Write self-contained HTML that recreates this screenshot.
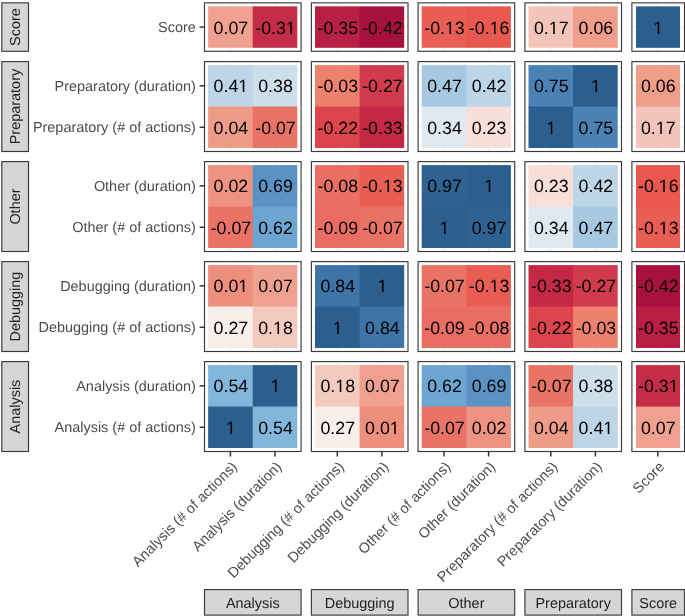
<!DOCTYPE html><html><head><meta charset="utf-8"><style>html,body{margin:0;padding:0;background:#fff;}svg{display:block;will-change:transform;}text{font-family:"Liberation Sans", sans-serif;text-rendering:geometricPrecision;}</style></head><body>
<svg width="685" height="616" viewBox="0 0 685 616">
<rect x="0" y="0" width="685" height="616" fill="#fff"/>
<rect x="1.8" y="2.85" width="26.7" height="48.45" fill="#D6D6D6" stroke="#3A3A3A" stroke-width="1.15"/>
<text x="20.5" y="27.08" transform="rotate(-90 20.5 27.08)" text-anchor="middle" font-size="14.45" fill="#222222">Score</text>
<rect x="204.50" y="2.85" width="96.60" height="48.45" fill="#fff"/>
<line x1="230.40" y1="2.85" x2="230.40" y2="51.30" stroke="#EBEBEB" stroke-width="1"/>
<line x1="275.00" y1="2.85" x2="275.00" y2="51.30" stroke="#EBEBEB" stroke-width="1"/>
<line x1="204.50" y1="27.08" x2="301.10" y2="27.08" stroke="#EBEBEB" stroke-width="1"/>
<rect x="208.10" y="6.35" width="45.40" height="41.45" fill="#F0A08E"/>
<rect x="252.70" y="6.35" width="44.60" height="41.45" fill="#C42C48"/>
<text x="230.90" y="34.00" text-anchor="middle" font-size="17.8" fill="#000">0.07</text>
<text x="275.50" y="34.00" text-anchor="middle" font-size="17.8" fill="#000">-0.31</text>
<rect x="286" y="32" width="10" height="2" fill="#C42C48"/>
<rect x="290.36" y="32" width="1.57" height="2" fill="#000"/>
<rect x="204.50" y="2.85" width="96.60" height="48.45" fill="none" stroke="#3A3A3A" stroke-width="1.15"/>
<rect x="311.40" y="2.85" width="96.60" height="48.45" fill="#fff"/>
<line x1="337.30" y1="2.85" x2="337.30" y2="51.30" stroke="#EBEBEB" stroke-width="1"/>
<line x1="381.90" y1="2.85" x2="381.90" y2="51.30" stroke="#EBEBEB" stroke-width="1"/>
<line x1="311.40" y1="27.08" x2="408.00" y2="27.08" stroke="#EBEBEB" stroke-width="1"/>
<rect x="315.00" y="6.35" width="45.40" height="41.45" fill="#B71F45"/>
<rect x="359.60" y="6.35" width="44.60" height="41.45" fill="#A8103D"/>
<text x="337.80" y="34.00" text-anchor="middle" font-size="17.8" fill="#000">-0.35</text>
<text x="382.40" y="34.00" text-anchor="middle" font-size="17.8" fill="#000">-0.42</text>
<rect x="311.40" y="2.85" width="96.60" height="48.45" fill="none" stroke="#3A3A3A" stroke-width="1.15"/>
<rect x="418.10" y="2.85" width="96.60" height="48.45" fill="#fff"/>
<line x1="444.00" y1="2.85" x2="444.00" y2="51.30" stroke="#EBEBEB" stroke-width="1"/>
<line x1="488.60" y1="2.85" x2="488.60" y2="51.30" stroke="#EBEBEB" stroke-width="1"/>
<line x1="418.10" y1="27.08" x2="514.70" y2="27.08" stroke="#EBEBEB" stroke-width="1"/>
<rect x="421.70" y="6.35" width="45.40" height="41.45" fill="#E85E55"/>
<rect x="466.30" y="6.35" width="44.60" height="41.45" fill="#E8584F"/>
<text x="444.50" y="34.00" text-anchor="middle" font-size="17.8" fill="#000">-0.13</text>
<rect x="445" y="32" width="11" height="2" fill="#E85E55"/>
<rect x="449.46" y="32" width="1.57" height="2" fill="#000"/>
<text x="489.10" y="34.00" text-anchor="middle" font-size="17.8" fill="#000">-0.16</text>
<rect x="489" y="32" width="11" height="2" fill="#E8584F"/>
<rect x="494.06" y="32" width="1.57" height="2" fill="#000"/>
<rect x="418.10" y="2.85" width="96.60" height="48.45" fill="none" stroke="#3A3A3A" stroke-width="1.15"/>
<rect x="524.90" y="2.85" width="96.60" height="48.45" fill="#fff"/>
<line x1="550.80" y1="2.85" x2="550.80" y2="51.30" stroke="#EBEBEB" stroke-width="1"/>
<line x1="595.40" y1="2.85" x2="595.40" y2="51.30" stroke="#EBEBEB" stroke-width="1"/>
<line x1="524.90" y1="27.08" x2="621.50" y2="27.08" stroke="#EBEBEB" stroke-width="1"/>
<rect x="528.50" y="6.35" width="45.40" height="41.45" fill="#F3C5BA"/>
<rect x="573.10" y="6.35" width="44.60" height="41.45" fill="#F09D8A"/>
<text x="551.30" y="34.00" text-anchor="middle" font-size="17.8" fill="#000">0.17</text>
<rect x="549" y="32" width="10" height="2" fill="#F3C5BA"/>
<rect x="553.30" y="32" width="1.57" height="2" fill="#000"/>
<text x="595.90" y="34.00" text-anchor="middle" font-size="17.8" fill="#000">0.06</text>
<rect x="524.90" y="2.85" width="96.60" height="48.45" fill="none" stroke="#3A3A3A" stroke-width="1.15"/>
<rect x="631.90" y="2.85" width="52.60" height="48.45" fill="#fff"/>
<line x1="657.80" y1="2.85" x2="657.80" y2="51.30" stroke="#EBEBEB" stroke-width="1"/>
<line x1="631.90" y1="27.08" x2="684.50" y2="27.08" stroke="#EBEBEB" stroke-width="1"/>
<rect x="636.00" y="6.35" width="44.00" height="41.45" fill="#2B5F8E"/>
<text x="658.30" y="34.00" text-anchor="middle" font-size="17.8" fill="#000">1</text>
<rect x="653" y="32" width="11" height="2" fill="#2B5F8E"/>
<rect x="657.83" y="32" width="1.57" height="2" fill="#000"/>
<rect x="631.90" y="2.85" width="52.60" height="48.45" fill="none" stroke="#3A3A3A" stroke-width="1.15"/>
<line x1="199.6" y1="27.08" x2="204.50" y2="27.08" stroke="#333" stroke-width="1.5"/>
<text x="195.8" y="32.08" text-anchor="end" font-size="14.45" fill="#4D4D4D">Score</text>
<rect x="1.8" y="61.60" width="26.7" height="89.90" fill="#D6D6D6" stroke="#3A3A3A" stroke-width="1.15"/>
<text x="20.5" y="106.55" transform="rotate(-90 20.5 106.55)" text-anchor="middle" font-size="14.45" fill="#222222">Preparatory</text>
<rect x="204.50" y="61.60" width="96.60" height="89.90" fill="#fff"/>
<line x1="230.40" y1="61.60" x2="230.40" y2="151.50" stroke="#EBEBEB" stroke-width="1"/>
<line x1="275.00" y1="61.60" x2="275.00" y2="151.50" stroke="#EBEBEB" stroke-width="1"/>
<line x1="204.50" y1="85.82" x2="301.10" y2="85.82" stroke="#EBEBEB" stroke-width="1"/>
<line x1="204.50" y1="127.28" x2="301.10" y2="127.28" stroke="#EBEBEB" stroke-width="1"/>
<rect x="208.10" y="65.10" width="45.40" height="42.25" fill="#BDD5E6"/>
<rect x="252.70" y="65.10" width="44.60" height="42.25" fill="#CCDFEB"/>
<rect x="208.10" y="106.55" width="45.40" height="41.45" fill="#EE9B88"/>
<rect x="252.70" y="106.55" width="44.60" height="41.45" fill="#E97466"/>
<text x="230.90" y="92.00" text-anchor="middle" font-size="17.8" fill="#000">0.41</text>
<rect x="238" y="90" width="11" height="2" fill="#BDD5E6"/>
<rect x="242.80" y="90" width="1.57" height="2" fill="#000"/>
<text x="275.50" y="92.00" text-anchor="middle" font-size="17.8" fill="#000">0.38</text>
<text x="230.90" y="134.00" text-anchor="middle" font-size="17.8" fill="#000">0.04</text>
<text x="275.50" y="134.00" text-anchor="middle" font-size="17.8" fill="#000">-0.07</text>
<rect x="204.50" y="61.60" width="96.60" height="89.90" fill="none" stroke="#3A3A3A" stroke-width="1.15"/>
<rect x="311.40" y="61.60" width="96.60" height="89.90" fill="#fff"/>
<line x1="337.30" y1="61.60" x2="337.30" y2="151.50" stroke="#EBEBEB" stroke-width="1"/>
<line x1="381.90" y1="61.60" x2="381.90" y2="151.50" stroke="#EBEBEB" stroke-width="1"/>
<line x1="311.40" y1="85.82" x2="408.00" y2="85.82" stroke="#EBEBEB" stroke-width="1"/>
<line x1="311.40" y1="127.28" x2="408.00" y2="127.28" stroke="#EBEBEB" stroke-width="1"/>
<rect x="315.00" y="65.10" width="45.40" height="42.25" fill="#ED816D"/>
<rect x="359.60" y="65.10" width="44.60" height="42.25" fill="#D23B4D"/>
<rect x="315.00" y="106.55" width="45.40" height="41.45" fill="#DB454B"/>
<rect x="359.60" y="106.55" width="44.60" height="41.45" fill="#C42845"/>
<text x="337.80" y="92.00" text-anchor="middle" font-size="17.8" fill="#000">-0.03</text>
<text x="382.40" y="92.00" text-anchor="middle" font-size="17.8" fill="#000">-0.27</text>
<text x="337.80" y="134.00" text-anchor="middle" font-size="17.8" fill="#000">-0.22</text>
<text x="382.40" y="134.00" text-anchor="middle" font-size="17.8" fill="#000">-0.33</text>
<rect x="311.40" y="61.60" width="96.60" height="89.90" fill="none" stroke="#3A3A3A" stroke-width="1.15"/>
<rect x="418.10" y="61.60" width="96.60" height="89.90" fill="#fff"/>
<line x1="444.00" y1="61.60" x2="444.00" y2="151.50" stroke="#EBEBEB" stroke-width="1"/>
<line x1="488.60" y1="61.60" x2="488.60" y2="151.50" stroke="#EBEBEB" stroke-width="1"/>
<line x1="418.10" y1="85.82" x2="514.70" y2="85.82" stroke="#EBEBEB" stroke-width="1"/>
<line x1="418.10" y1="127.28" x2="514.70" y2="127.28" stroke="#EBEBEB" stroke-width="1"/>
<rect x="421.70" y="65.10" width="45.40" height="42.25" fill="#A6C9E1"/>
<rect x="466.30" y="65.10" width="44.60" height="42.25" fill="#BCD6E8"/>
<rect x="421.70" y="106.55" width="45.40" height="41.45" fill="#E0E9F1"/>
<rect x="466.30" y="106.55" width="44.60" height="41.45" fill="#F8DED8"/>
<text x="444.50" y="92.00" text-anchor="middle" font-size="17.8" fill="#000">0.47</text>
<text x="489.10" y="92.00" text-anchor="middle" font-size="17.8" fill="#000">0.42</text>
<text x="444.50" y="134.00" text-anchor="middle" font-size="17.8" fill="#000">0.34</text>
<text x="489.10" y="134.00" text-anchor="middle" font-size="17.8" fill="#000">0.23</text>
<rect x="418.10" y="61.60" width="96.60" height="89.90" fill="none" stroke="#3A3A3A" stroke-width="1.15"/>
<rect x="524.90" y="61.60" width="96.60" height="89.90" fill="#fff"/>
<line x1="550.80" y1="61.60" x2="550.80" y2="151.50" stroke="#EBEBEB" stroke-width="1"/>
<line x1="595.40" y1="61.60" x2="595.40" y2="151.50" stroke="#EBEBEB" stroke-width="1"/>
<line x1="524.90" y1="85.82" x2="621.50" y2="85.82" stroke="#EBEBEB" stroke-width="1"/>
<line x1="524.90" y1="127.28" x2="621.50" y2="127.28" stroke="#EBEBEB" stroke-width="1"/>
<rect x="528.50" y="65.10" width="45.40" height="42.25" fill="#4B82B5"/>
<rect x="573.10" y="65.10" width="44.60" height="42.25" fill="#2B5F8E"/>
<rect x="528.50" y="106.55" width="45.40" height="41.45" fill="#2B5F8E"/>
<rect x="573.10" y="106.55" width="44.60" height="41.45" fill="#4B82B5"/>
<text x="551.30" y="92.00" text-anchor="middle" font-size="17.8" fill="#000">0.75</text>
<text x="595.90" y="92.00" text-anchor="middle" font-size="17.8" fill="#000">1</text>
<rect x="591" y="90" width="10" height="2" fill="#2B5F8E"/>
<rect x="595.43" y="90" width="1.57" height="2" fill="#000"/>
<text x="551.30" y="134.00" text-anchor="middle" font-size="17.8" fill="#000">1</text>
<rect x="546" y="132" width="11" height="2" fill="#2B5F8E"/>
<rect x="550.83" y="132" width="1.57" height="2" fill="#000"/>
<text x="595.90" y="134.00" text-anchor="middle" font-size="17.8" fill="#000">0.75</text>
<rect x="524.90" y="61.60" width="96.60" height="89.90" fill="none" stroke="#3A3A3A" stroke-width="1.15"/>
<rect x="631.90" y="61.60" width="52.60" height="89.90" fill="#fff"/>
<line x1="657.80" y1="61.60" x2="657.80" y2="151.50" stroke="#EBEBEB" stroke-width="1"/>
<line x1="631.90" y1="85.82" x2="684.50" y2="85.82" stroke="#EBEBEB" stroke-width="1"/>
<line x1="631.90" y1="127.28" x2="684.50" y2="127.28" stroke="#EBEBEB" stroke-width="1"/>
<rect x="636.00" y="65.10" width="44.00" height="42.25" fill="#F09D8A"/>
<rect x="636.00" y="106.55" width="44.00" height="41.45" fill="#F3C5BA"/>
<text x="658.30" y="92.00" text-anchor="middle" font-size="17.8" fill="#000">0.06</text>
<text x="658.30" y="134.00" text-anchor="middle" font-size="17.8" fill="#000">0.17</text>
<rect x="656" y="132" width="10" height="2" fill="#F3C5BA"/>
<rect x="660.30" y="132" width="1.57" height="2" fill="#000"/>
<rect x="631.90" y="61.60" width="52.60" height="89.90" fill="none" stroke="#3A3A3A" stroke-width="1.15"/>
<line x1="199.6" y1="85.82" x2="204.50" y2="85.82" stroke="#333" stroke-width="1.5"/>
<text x="195.8" y="90.82" text-anchor="end" font-size="14.45" fill="#4D4D4D">Preparatory (duration)</text>
<line x1="199.6" y1="127.28" x2="204.50" y2="127.28" stroke="#333" stroke-width="1.5"/>
<text x="195.8" y="132.28" text-anchor="end" font-size="14.45" fill="#4D4D4D">Preparatory (# of actions)</text>
<rect x="1.8" y="161.60" width="26.7" height="89.90" fill="#D6D6D6" stroke="#3A3A3A" stroke-width="1.15"/>
<text x="20.5" y="206.55" transform="rotate(-90 20.5 206.55)" text-anchor="middle" font-size="14.45" fill="#222222">Other</text>
<rect x="204.50" y="161.60" width="96.60" height="89.90" fill="#fff"/>
<line x1="230.40" y1="161.60" x2="230.40" y2="251.50" stroke="#EBEBEB" stroke-width="1"/>
<line x1="275.00" y1="161.60" x2="275.00" y2="251.50" stroke="#EBEBEB" stroke-width="1"/>
<line x1="204.50" y1="185.82" x2="301.10" y2="185.82" stroke="#EBEBEB" stroke-width="1"/>
<line x1="204.50" y1="227.28" x2="301.10" y2="227.28" stroke="#EBEBEB" stroke-width="1"/>
<rect x="208.10" y="165.10" width="45.40" height="42.25" fill="#EE9282"/>
<rect x="252.70" y="165.10" width="44.60" height="42.25" fill="#5A93C3"/>
<rect x="208.10" y="206.55" width="45.40" height="41.45" fill="#E97466"/>
<rect x="252.70" y="206.55" width="44.60" height="41.45" fill="#6BA5D0"/>
<text x="230.90" y="192.00" text-anchor="middle" font-size="17.8" fill="#000">0.02</text>
<text x="275.50" y="192.00" text-anchor="middle" font-size="17.8" fill="#000">0.69</text>
<text x="230.90" y="234.00" text-anchor="middle" font-size="17.8" fill="#000">-0.07</text>
<text x="275.50" y="234.00" text-anchor="middle" font-size="17.8" fill="#000">0.62</text>
<rect x="204.50" y="161.60" width="96.60" height="89.90" fill="none" stroke="#3A3A3A" stroke-width="1.15"/>
<rect x="311.40" y="161.60" width="96.60" height="89.90" fill="#fff"/>
<line x1="337.30" y1="161.60" x2="337.30" y2="251.50" stroke="#EBEBEB" stroke-width="1"/>
<line x1="381.90" y1="161.60" x2="381.90" y2="251.50" stroke="#EBEBEB" stroke-width="1"/>
<line x1="311.40" y1="185.82" x2="408.00" y2="185.82" stroke="#EBEBEB" stroke-width="1"/>
<line x1="311.40" y1="227.28" x2="408.00" y2="227.28" stroke="#EBEBEB" stroke-width="1"/>
<rect x="315.00" y="165.10" width="45.40" height="42.25" fill="#E96F63"/>
<rect x="359.60" y="165.10" width="44.60" height="42.25" fill="#E85E55"/>
<rect x="315.00" y="206.55" width="45.40" height="41.45" fill="#E96D62"/>
<rect x="359.60" y="206.55" width="44.60" height="41.45" fill="#E97466"/>
<text x="337.80" y="192.00" text-anchor="middle" font-size="17.8" fill="#000">-0.08</text>
<text x="382.40" y="192.00" text-anchor="middle" font-size="17.8" fill="#000">-0.13</text>
<rect x="383" y="190" width="10" height="2" fill="#E85E55"/>
<rect x="387.36" y="190" width="1.57" height="2" fill="#000"/>
<text x="337.80" y="234.00" text-anchor="middle" font-size="17.8" fill="#000">-0.09</text>
<text x="382.40" y="234.00" text-anchor="middle" font-size="17.8" fill="#000">-0.07</text>
<rect x="311.40" y="161.60" width="96.60" height="89.90" fill="none" stroke="#3A3A3A" stroke-width="1.15"/>
<rect x="418.10" y="161.60" width="96.60" height="89.90" fill="#fff"/>
<line x1="444.00" y1="161.60" x2="444.00" y2="251.50" stroke="#EBEBEB" stroke-width="1"/>
<line x1="488.60" y1="161.60" x2="488.60" y2="251.50" stroke="#EBEBEB" stroke-width="1"/>
<line x1="418.10" y1="185.82" x2="514.70" y2="185.82" stroke="#EBEBEB" stroke-width="1"/>
<line x1="418.10" y1="227.28" x2="514.70" y2="227.28" stroke="#EBEBEB" stroke-width="1"/>
<rect x="421.70" y="165.10" width="45.40" height="42.25" fill="#2E6291"/>
<rect x="466.30" y="165.10" width="44.60" height="42.25" fill="#2B5F8E"/>
<rect x="421.70" y="206.55" width="45.40" height="41.45" fill="#2B5F8E"/>
<rect x="466.30" y="206.55" width="44.60" height="41.45" fill="#2E6291"/>
<text x="444.50" y="192.00" text-anchor="middle" font-size="17.8" fill="#000">0.97</text>
<text x="489.10" y="192.00" text-anchor="middle" font-size="17.8" fill="#000">1</text>
<rect x="484" y="190" width="11" height="2" fill="#2B5F8E"/>
<rect x="488.63" y="190" width="1.57" height="2" fill="#000"/>
<text x="444.50" y="234.00" text-anchor="middle" font-size="17.8" fill="#000">1</text>
<rect x="439" y="232" width="11" height="2" fill="#2B5F8E"/>
<rect x="444.03" y="232" width="1.57" height="2" fill="#000"/>
<text x="489.10" y="234.00" text-anchor="middle" font-size="17.8" fill="#000">0.97</text>
<rect x="418.10" y="161.60" width="96.60" height="89.90" fill="none" stroke="#3A3A3A" stroke-width="1.15"/>
<rect x="524.90" y="161.60" width="96.60" height="89.90" fill="#fff"/>
<line x1="550.80" y1="161.60" x2="550.80" y2="251.50" stroke="#EBEBEB" stroke-width="1"/>
<line x1="595.40" y1="161.60" x2="595.40" y2="251.50" stroke="#EBEBEB" stroke-width="1"/>
<line x1="524.90" y1="185.82" x2="621.50" y2="185.82" stroke="#EBEBEB" stroke-width="1"/>
<line x1="524.90" y1="227.28" x2="621.50" y2="227.28" stroke="#EBEBEB" stroke-width="1"/>
<rect x="528.50" y="165.10" width="45.40" height="42.25" fill="#F8DED8"/>
<rect x="573.10" y="165.10" width="44.60" height="42.25" fill="#BCD6E8"/>
<rect x="528.50" y="206.55" width="45.40" height="41.45" fill="#E0E9F1"/>
<rect x="573.10" y="206.55" width="44.60" height="41.45" fill="#A6C9E1"/>
<text x="551.30" y="192.00" text-anchor="middle" font-size="17.8" fill="#000">0.23</text>
<text x="595.90" y="192.00" text-anchor="middle" font-size="17.8" fill="#000">0.42</text>
<text x="551.30" y="234.00" text-anchor="middle" font-size="17.8" fill="#000">0.34</text>
<text x="595.90" y="234.00" text-anchor="middle" font-size="17.8" fill="#000">0.47</text>
<rect x="524.90" y="161.60" width="96.60" height="89.90" fill="none" stroke="#3A3A3A" stroke-width="1.15"/>
<rect x="631.90" y="161.60" width="52.60" height="89.90" fill="#fff"/>
<line x1="657.80" y1="161.60" x2="657.80" y2="251.50" stroke="#EBEBEB" stroke-width="1"/>
<line x1="631.90" y1="185.82" x2="684.50" y2="185.82" stroke="#EBEBEB" stroke-width="1"/>
<line x1="631.90" y1="227.28" x2="684.50" y2="227.28" stroke="#EBEBEB" stroke-width="1"/>
<rect x="636.00" y="165.10" width="44.00" height="42.25" fill="#E8584F"/>
<rect x="636.00" y="206.55" width="44.00" height="41.45" fill="#E85E55"/>
<text x="658.30" y="192.00" text-anchor="middle" font-size="17.8" fill="#000">-0.16</text>
<rect x="659" y="190" width="10" height="2" fill="#E8584F"/>
<rect x="663.26" y="190" width="1.57" height="2" fill="#000"/>
<text x="658.30" y="234.00" text-anchor="middle" font-size="17.8" fill="#000">-0.13</text>
<rect x="659" y="232" width="10" height="2" fill="#E85E55"/>
<rect x="663.26" y="232" width="1.57" height="2" fill="#000"/>
<rect x="631.90" y="161.60" width="52.60" height="89.90" fill="none" stroke="#3A3A3A" stroke-width="1.15"/>
<line x1="199.6" y1="185.82" x2="204.50" y2="185.82" stroke="#333" stroke-width="1.5"/>
<text x="195.8" y="190.82" text-anchor="end" font-size="14.45" fill="#4D4D4D">Other (duration)</text>
<line x1="199.6" y1="227.28" x2="204.50" y2="227.28" stroke="#333" stroke-width="1.5"/>
<text x="195.8" y="232.28" text-anchor="end" font-size="14.45" fill="#4D4D4D">Other (# of actions)</text>
<rect x="1.8" y="261.60" width="26.7" height="89.90" fill="#D6D6D6" stroke="#3A3A3A" stroke-width="1.15"/>
<text x="20.5" y="306.55" transform="rotate(-90 20.5 306.55)" text-anchor="middle" font-size="14.45" fill="#222222">Debugging</text>
<rect x="204.50" y="261.60" width="96.60" height="89.90" fill="#fff"/>
<line x1="230.40" y1="261.60" x2="230.40" y2="351.50" stroke="#EBEBEB" stroke-width="1"/>
<line x1="275.00" y1="261.60" x2="275.00" y2="351.50" stroke="#EBEBEB" stroke-width="1"/>
<line x1="204.50" y1="285.83" x2="301.10" y2="285.83" stroke="#EBEBEB" stroke-width="1"/>
<line x1="204.50" y1="327.28" x2="301.10" y2="327.28" stroke="#EBEBEB" stroke-width="1"/>
<rect x="208.10" y="265.10" width="45.40" height="42.25" fill="#EE8E7D"/>
<rect x="252.70" y="265.10" width="44.60" height="42.25" fill="#F0A08E"/>
<rect x="208.10" y="306.55" width="45.40" height="41.45" fill="#F8EEEA"/>
<rect x="252.70" y="306.55" width="44.60" height="41.45" fill="#F4C9BE"/>
<text x="230.90" y="292.00" text-anchor="middle" font-size="17.8" fill="#000">0.01</text>
<rect x="238" y="290" width="11" height="2" fill="#EE8E7D"/>
<rect x="242.80" y="290" width="1.57" height="2" fill="#000"/>
<text x="275.50" y="292.00" text-anchor="middle" font-size="17.8" fill="#000">0.07</text>
<text x="230.90" y="334.00" text-anchor="middle" font-size="17.8" fill="#000">0.27</text>
<text x="275.50" y="334.00" text-anchor="middle" font-size="17.8" fill="#000">0.18</text>
<rect x="273" y="332" width="11" height="2" fill="#F4C9BE"/>
<rect x="277.50" y="332" width="1.57" height="2" fill="#000"/>
<rect x="204.50" y="261.60" width="96.60" height="89.90" fill="none" stroke="#3A3A3A" stroke-width="1.15"/>
<rect x="311.40" y="261.60" width="96.60" height="89.90" fill="#fff"/>
<line x1="337.30" y1="261.60" x2="337.30" y2="351.50" stroke="#EBEBEB" stroke-width="1"/>
<line x1="381.90" y1="261.60" x2="381.90" y2="351.50" stroke="#EBEBEB" stroke-width="1"/>
<line x1="311.40" y1="285.83" x2="408.00" y2="285.83" stroke="#EBEBEB" stroke-width="1"/>
<line x1="311.40" y1="327.28" x2="408.00" y2="327.28" stroke="#EBEBEB" stroke-width="1"/>
<rect x="315.00" y="265.10" width="45.40" height="42.25" fill="#3F74A8"/>
<rect x="359.60" y="265.10" width="44.60" height="42.25" fill="#2B5F8E"/>
<rect x="315.00" y="306.55" width="45.40" height="41.45" fill="#2B5F8E"/>
<rect x="359.60" y="306.55" width="44.60" height="41.45" fill="#3F74A8"/>
<text x="337.80" y="292.00" text-anchor="middle" font-size="17.8" fill="#000">0.84</text>
<text x="382.40" y="292.00" text-anchor="middle" font-size="17.8" fill="#000">1</text>
<rect x="377" y="290" width="11" height="2" fill="#2B5F8E"/>
<rect x="381.93" y="290" width="1.57" height="2" fill="#000"/>
<text x="337.80" y="334.00" text-anchor="middle" font-size="17.8" fill="#000">1</text>
<rect x="333" y="332" width="10" height="2" fill="#2B5F8E"/>
<rect x="337.33" y="332" width="1.57" height="2" fill="#000"/>
<text x="382.40" y="334.00" text-anchor="middle" font-size="17.8" fill="#000">0.84</text>
<rect x="311.40" y="261.60" width="96.60" height="89.90" fill="none" stroke="#3A3A3A" stroke-width="1.15"/>
<rect x="418.10" y="261.60" width="96.60" height="89.90" fill="#fff"/>
<line x1="444.00" y1="261.60" x2="444.00" y2="351.50" stroke="#EBEBEB" stroke-width="1"/>
<line x1="488.60" y1="261.60" x2="488.60" y2="351.50" stroke="#EBEBEB" stroke-width="1"/>
<line x1="418.10" y1="285.83" x2="514.70" y2="285.83" stroke="#EBEBEB" stroke-width="1"/>
<line x1="418.10" y1="327.28" x2="514.70" y2="327.28" stroke="#EBEBEB" stroke-width="1"/>
<rect x="421.70" y="265.10" width="45.40" height="42.25" fill="#E97466"/>
<rect x="466.30" y="265.10" width="44.60" height="42.25" fill="#E85E55"/>
<rect x="421.70" y="306.55" width="45.40" height="41.45" fill="#E96D62"/>
<rect x="466.30" y="306.55" width="44.60" height="41.45" fill="#E96F63"/>
<text x="444.50" y="292.00" text-anchor="middle" font-size="17.8" fill="#000">-0.07</text>
<text x="489.10" y="292.00" text-anchor="middle" font-size="17.8" fill="#000">-0.13</text>
<rect x="489" y="290" width="11" height="2" fill="#E85E55"/>
<rect x="494.06" y="290" width="1.57" height="2" fill="#000"/>
<text x="444.50" y="334.00" text-anchor="middle" font-size="17.8" fill="#000">-0.09</text>
<text x="489.10" y="334.00" text-anchor="middle" font-size="17.8" fill="#000">-0.08</text>
<rect x="418.10" y="261.60" width="96.60" height="89.90" fill="none" stroke="#3A3A3A" stroke-width="1.15"/>
<rect x="524.90" y="261.60" width="96.60" height="89.90" fill="#fff"/>
<line x1="550.80" y1="261.60" x2="550.80" y2="351.50" stroke="#EBEBEB" stroke-width="1"/>
<line x1="595.40" y1="261.60" x2="595.40" y2="351.50" stroke="#EBEBEB" stroke-width="1"/>
<line x1="524.90" y1="285.83" x2="621.50" y2="285.83" stroke="#EBEBEB" stroke-width="1"/>
<line x1="524.90" y1="327.28" x2="621.50" y2="327.28" stroke="#EBEBEB" stroke-width="1"/>
<rect x="528.50" y="265.10" width="45.40" height="42.25" fill="#C42845"/>
<rect x="573.10" y="265.10" width="44.60" height="42.25" fill="#D23B4D"/>
<rect x="528.50" y="306.55" width="45.40" height="41.45" fill="#DB454B"/>
<rect x="573.10" y="306.55" width="44.60" height="41.45" fill="#ED816D"/>
<text x="551.30" y="292.00" text-anchor="middle" font-size="17.8" fill="#000">-0.33</text>
<text x="595.90" y="292.00" text-anchor="middle" font-size="17.8" fill="#000">-0.27</text>
<text x="551.30" y="334.00" text-anchor="middle" font-size="17.8" fill="#000">-0.22</text>
<text x="595.90" y="334.00" text-anchor="middle" font-size="17.8" fill="#000">-0.03</text>
<rect x="524.90" y="261.60" width="96.60" height="89.90" fill="none" stroke="#3A3A3A" stroke-width="1.15"/>
<rect x="631.90" y="261.60" width="52.60" height="89.90" fill="#fff"/>
<line x1="657.80" y1="261.60" x2="657.80" y2="351.50" stroke="#EBEBEB" stroke-width="1"/>
<line x1="631.90" y1="285.83" x2="684.50" y2="285.83" stroke="#EBEBEB" stroke-width="1"/>
<line x1="631.90" y1="327.28" x2="684.50" y2="327.28" stroke="#EBEBEB" stroke-width="1"/>
<rect x="636.00" y="265.10" width="44.00" height="42.25" fill="#A8103D"/>
<rect x="636.00" y="306.55" width="44.00" height="41.45" fill="#B71F45"/>
<text x="658.30" y="292.00" text-anchor="middle" font-size="17.8" fill="#000">-0.42</text>
<text x="658.30" y="334.00" text-anchor="middle" font-size="17.8" fill="#000">-0.35</text>
<rect x="631.90" y="261.60" width="52.60" height="89.90" fill="none" stroke="#3A3A3A" stroke-width="1.15"/>
<line x1="199.6" y1="285.83" x2="204.50" y2="285.83" stroke="#333" stroke-width="1.5"/>
<text x="195.8" y="290.83" text-anchor="end" font-size="14.45" fill="#4D4D4D">Debugging (duration)</text>
<line x1="199.6" y1="327.28" x2="204.50" y2="327.28" stroke="#333" stroke-width="1.5"/>
<text x="195.8" y="332.28" text-anchor="end" font-size="14.45" fill="#4D4D4D">Debugging (# of actions)</text>
<rect x="1.8" y="361.60" width="26.7" height="89.90" fill="#D6D6D6" stroke="#3A3A3A" stroke-width="1.15"/>
<text x="20.5" y="406.55" transform="rotate(-90 20.5 406.55)" text-anchor="middle" font-size="14.45" fill="#222222">Analysis</text>
<rect x="204.50" y="361.60" width="96.60" height="89.90" fill="#fff"/>
<line x1="230.40" y1="361.60" x2="230.40" y2="451.50" stroke="#EBEBEB" stroke-width="1"/>
<line x1="275.00" y1="361.60" x2="275.00" y2="451.50" stroke="#EBEBEB" stroke-width="1"/>
<line x1="204.50" y1="385.83" x2="301.10" y2="385.83" stroke="#EBEBEB" stroke-width="1"/>
<line x1="204.50" y1="427.28" x2="301.10" y2="427.28" stroke="#EBEBEB" stroke-width="1"/>
<rect x="208.10" y="365.10" width="45.40" height="42.25" fill="#82B6DB"/>
<rect x="252.70" y="365.10" width="44.60" height="42.25" fill="#2B5F8E"/>
<rect x="208.10" y="406.55" width="45.40" height="41.45" fill="#2B5F8E"/>
<rect x="252.70" y="406.55" width="44.60" height="41.45" fill="#82B6DB"/>
<text x="230.90" y="392.00" text-anchor="middle" font-size="17.8" fill="#000">0.54</text>
<text x="275.50" y="392.00" text-anchor="middle" font-size="17.8" fill="#000">1</text>
<rect x="270" y="390" width="11" height="2" fill="#2B5F8E"/>
<rect x="275.03" y="390" width="1.57" height="2" fill="#000"/>
<text x="230.90" y="434.00" text-anchor="middle" font-size="17.8" fill="#000">1</text>
<rect x="226" y="432" width="10" height="2" fill="#2B5F8E"/>
<rect x="230.43" y="432" width="1.57" height="2" fill="#000"/>
<text x="275.50" y="434.00" text-anchor="middle" font-size="17.8" fill="#000">0.54</text>
<rect x="204.50" y="361.60" width="96.60" height="89.90" fill="none" stroke="#3A3A3A" stroke-width="1.15"/>
<rect x="311.40" y="361.60" width="96.60" height="89.90" fill="#fff"/>
<line x1="337.30" y1="361.60" x2="337.30" y2="451.50" stroke="#EBEBEB" stroke-width="1"/>
<line x1="381.90" y1="361.60" x2="381.90" y2="451.50" stroke="#EBEBEB" stroke-width="1"/>
<line x1="311.40" y1="385.83" x2="408.00" y2="385.83" stroke="#EBEBEB" stroke-width="1"/>
<line x1="311.40" y1="427.28" x2="408.00" y2="427.28" stroke="#EBEBEB" stroke-width="1"/>
<rect x="315.00" y="365.10" width="45.40" height="42.25" fill="#F4C9BE"/>
<rect x="359.60" y="365.10" width="44.60" height="42.25" fill="#F0A08E"/>
<rect x="315.00" y="406.55" width="45.40" height="41.45" fill="#F8EEEA"/>
<rect x="359.60" y="406.55" width="44.60" height="41.45" fill="#EE8E7D"/>
<text x="337.80" y="392.00" text-anchor="middle" font-size="17.8" fill="#000">0.18</text>
<rect x="335" y="390" width="11" height="2" fill="#F4C9BE"/>
<rect x="339.80" y="390" width="1.57" height="2" fill="#000"/>
<text x="382.40" y="392.00" text-anchor="middle" font-size="17.8" fill="#000">0.07</text>
<text x="337.80" y="434.00" text-anchor="middle" font-size="17.8" fill="#000">0.27</text>
<text x="382.40" y="434.00" text-anchor="middle" font-size="17.8" fill="#000">0.01</text>
<rect x="390" y="432" width="10" height="2" fill="#EE8E7D"/>
<rect x="394.30" y="432" width="1.57" height="2" fill="#000"/>
<rect x="311.40" y="361.60" width="96.60" height="89.90" fill="none" stroke="#3A3A3A" stroke-width="1.15"/>
<rect x="418.10" y="361.60" width="96.60" height="89.90" fill="#fff"/>
<line x1="444.00" y1="361.60" x2="444.00" y2="451.50" stroke="#EBEBEB" stroke-width="1"/>
<line x1="488.60" y1="361.60" x2="488.60" y2="451.50" stroke="#EBEBEB" stroke-width="1"/>
<line x1="418.10" y1="385.83" x2="514.70" y2="385.83" stroke="#EBEBEB" stroke-width="1"/>
<line x1="418.10" y1="427.28" x2="514.70" y2="427.28" stroke="#EBEBEB" stroke-width="1"/>
<rect x="421.70" y="365.10" width="45.40" height="42.25" fill="#6BA5D0"/>
<rect x="466.30" y="365.10" width="44.60" height="42.25" fill="#5A93C3"/>
<rect x="421.70" y="406.55" width="45.40" height="41.45" fill="#E97466"/>
<rect x="466.30" y="406.55" width="44.60" height="41.45" fill="#EE9282"/>
<text x="444.50" y="392.00" text-anchor="middle" font-size="17.8" fill="#000">0.62</text>
<text x="489.10" y="392.00" text-anchor="middle" font-size="17.8" fill="#000">0.69</text>
<text x="444.50" y="434.00" text-anchor="middle" font-size="17.8" fill="#000">-0.07</text>
<text x="489.10" y="434.00" text-anchor="middle" font-size="17.8" fill="#000">0.02</text>
<rect x="418.10" y="361.60" width="96.60" height="89.90" fill="none" stroke="#3A3A3A" stroke-width="1.15"/>
<rect x="524.90" y="361.60" width="96.60" height="89.90" fill="#fff"/>
<line x1="550.80" y1="361.60" x2="550.80" y2="451.50" stroke="#EBEBEB" stroke-width="1"/>
<line x1="595.40" y1="361.60" x2="595.40" y2="451.50" stroke="#EBEBEB" stroke-width="1"/>
<line x1="524.90" y1="385.83" x2="621.50" y2="385.83" stroke="#EBEBEB" stroke-width="1"/>
<line x1="524.90" y1="427.28" x2="621.50" y2="427.28" stroke="#EBEBEB" stroke-width="1"/>
<rect x="528.50" y="365.10" width="45.40" height="42.25" fill="#E97466"/>
<rect x="573.10" y="365.10" width="44.60" height="42.25" fill="#CCDFEB"/>
<rect x="528.50" y="406.55" width="45.40" height="41.45" fill="#EE9B88"/>
<rect x="573.10" y="406.55" width="44.60" height="41.45" fill="#BDD5E6"/>
<text x="551.30" y="392.00" text-anchor="middle" font-size="17.8" fill="#000">-0.07</text>
<text x="595.90" y="392.00" text-anchor="middle" font-size="17.8" fill="#000">0.38</text>
<text x="551.30" y="434.00" text-anchor="middle" font-size="17.8" fill="#000">0.04</text>
<text x="595.90" y="434.00" text-anchor="middle" font-size="17.8" fill="#000">0.41</text>
<rect x="603" y="432" width="11" height="2" fill="#BDD5E6"/>
<rect x="607.80" y="432" width="1.57" height="2" fill="#000"/>
<rect x="524.90" y="361.60" width="96.60" height="89.90" fill="none" stroke="#3A3A3A" stroke-width="1.15"/>
<rect x="631.90" y="361.60" width="52.60" height="89.90" fill="#fff"/>
<line x1="657.80" y1="361.60" x2="657.80" y2="451.50" stroke="#EBEBEB" stroke-width="1"/>
<line x1="631.90" y1="385.83" x2="684.50" y2="385.83" stroke="#EBEBEB" stroke-width="1"/>
<line x1="631.90" y1="427.28" x2="684.50" y2="427.28" stroke="#EBEBEB" stroke-width="1"/>
<rect x="636.00" y="365.10" width="44.00" height="42.25" fill="#C42C48"/>
<rect x="636.00" y="406.55" width="44.00" height="41.45" fill="#F0A08E"/>
<text x="658.30" y="392.00" text-anchor="middle" font-size="17.8" fill="#000">-0.31</text>
<rect x="669" y="390" width="10" height="2" fill="#C42C48"/>
<rect x="673.16" y="390" width="1.57" height="2" fill="#000"/>
<text x="658.30" y="434.00" text-anchor="middle" font-size="17.8" fill="#000">0.07</text>
<rect x="631.90" y="361.60" width="52.60" height="89.90" fill="none" stroke="#3A3A3A" stroke-width="1.15"/>
<line x1="199.6" y1="385.83" x2="204.50" y2="385.83" stroke="#333" stroke-width="1.5"/>
<text x="195.8" y="390.83" text-anchor="end" font-size="14.45" fill="#4D4D4D">Analysis (duration)</text>
<line x1="199.6" y1="427.28" x2="204.50" y2="427.28" stroke="#333" stroke-width="1.5"/>
<text x="195.8" y="432.28" text-anchor="end" font-size="14.45" fill="#4D4D4D">Analysis (# of actions)</text>
<line x1="230.40" y1="451.50" x2="230.40" y2="456.5" stroke="#333" stroke-width="1.5"/>
<text x="237.90" y="467.60" transform="rotate(-45 237.90 467.60)" text-anchor="end" font-size="14.45" fill="#4D4D4D">Analysis (# of actions)</text>
<line x1="275.00" y1="451.50" x2="275.00" y2="456.5" stroke="#333" stroke-width="1.5"/>
<text x="282.50" y="467.60" transform="rotate(-45 282.50 467.60)" text-anchor="end" font-size="14.45" fill="#4D4D4D">Analysis (duration)</text>
<rect x="204.50" y="589.6" width="96.60" height="25.5" fill="#D6D6D6" stroke="#3A3A3A" stroke-width="1.15"/>
<text x="252.80" y="607.6" text-anchor="middle" font-size="14.45" fill="#222222">Analysis</text>
<line x1="337.30" y1="451.50" x2="337.30" y2="456.5" stroke="#333" stroke-width="1.5"/>
<text x="344.80" y="467.60" transform="rotate(-45 344.80 467.60)" text-anchor="end" font-size="14.45" fill="#4D4D4D">Debugging (# of actions)</text>
<line x1="381.90" y1="451.50" x2="381.90" y2="456.5" stroke="#333" stroke-width="1.5"/>
<text x="389.40" y="467.60" transform="rotate(-45 389.40 467.60)" text-anchor="end" font-size="14.45" fill="#4D4D4D">Debugging (duration)</text>
<rect x="311.40" y="589.6" width="96.60" height="25.5" fill="#D6D6D6" stroke="#3A3A3A" stroke-width="1.15"/>
<text x="359.70" y="607.6" text-anchor="middle" font-size="14.45" fill="#222222">Debugging</text>
<line x1="444.00" y1="451.50" x2="444.00" y2="456.5" stroke="#333" stroke-width="1.5"/>
<text x="451.50" y="467.60" transform="rotate(-45 451.50 467.60)" text-anchor="end" font-size="14.45" fill="#4D4D4D">Other (# of actions)</text>
<line x1="488.60" y1="451.50" x2="488.60" y2="456.5" stroke="#333" stroke-width="1.5"/>
<text x="496.10" y="467.60" transform="rotate(-45 496.10 467.60)" text-anchor="end" font-size="14.45" fill="#4D4D4D">Other (duration)</text>
<rect x="418.10" y="589.6" width="96.60" height="25.5" fill="#D6D6D6" stroke="#3A3A3A" stroke-width="1.15"/>
<text x="466.40" y="607.6" text-anchor="middle" font-size="14.45" fill="#222222">Other</text>
<line x1="550.80" y1="451.50" x2="550.80" y2="456.5" stroke="#333" stroke-width="1.5"/>
<text x="558.30" y="467.60" transform="rotate(-45 558.30 467.60)" text-anchor="end" font-size="14.45" fill="#4D4D4D">Preparatory (# of actions)</text>
<line x1="595.40" y1="451.50" x2="595.40" y2="456.5" stroke="#333" stroke-width="1.5"/>
<text x="602.90" y="467.60" transform="rotate(-45 602.90 467.60)" text-anchor="end" font-size="14.45" fill="#4D4D4D">Preparatory (duration)</text>
<rect x="524.90" y="589.6" width="96.60" height="25.5" fill="#D6D6D6" stroke="#3A3A3A" stroke-width="1.15"/>
<text x="573.20" y="607.6" text-anchor="middle" font-size="14.45" fill="#222222">Preparatory</text>
<line x1="657.80" y1="451.50" x2="657.80" y2="456.5" stroke="#333" stroke-width="1.5"/>
<text x="665.30" y="467.60" transform="rotate(-45 665.30 467.60)" text-anchor="end" font-size="14.45" fill="#4D4D4D">Score</text>
<rect x="631.90" y="589.6" width="52.60" height="25.5" fill="#D6D6D6" stroke="#3A3A3A" stroke-width="1.15"/>
<text x="658.20" y="607.6" text-anchor="middle" font-size="14.45" fill="#222222">Score</text>
</svg></body></html>
